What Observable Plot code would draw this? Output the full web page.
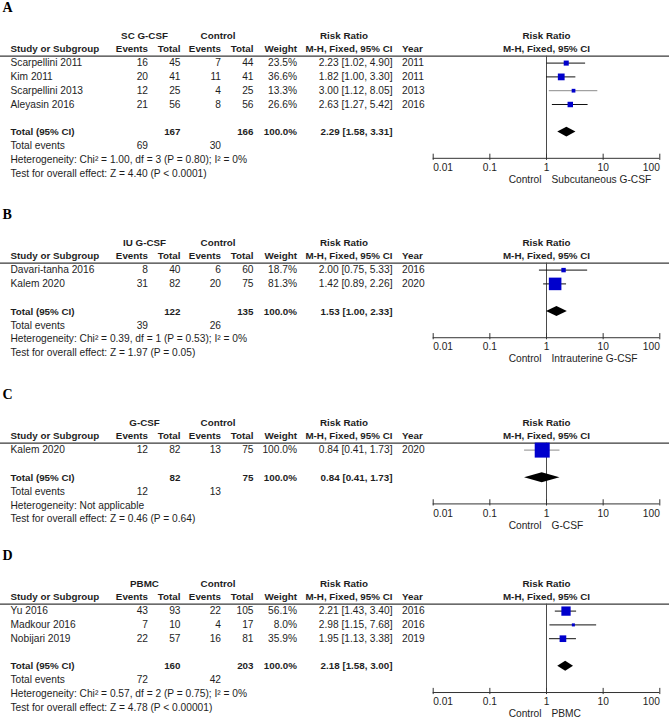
<!DOCTYPE html>
<html><head><meta charset="utf-8">
<script src="https://cdn.jsdelivr.net/npm/d3@7"></script>
<script src="https://cdn.jsdelivr.net/npm/@observablehq/plot@0.6"></script>
<style>
body{margin:0;background:#fff;}
#chart svg{display:block;}
</style></head><body><div id="chart"></div>
<script>
// ---------- DATA ----------
// Panel A
const aStudies = ["Scarpellini 2011", "Kim 2011", "Scarpellini 2013", "Aleyasin 2016"];
const aExpEvents = [16, 20, 12, 21];
const aExpTotal = [45, 41, 25, 56];
const aCtlEvents = [7, 11, 4, 8];
const aCtlTotal = [44, 41, 25, 56];
const aWeight = [23.5, 36.6, 13.3, 26.6];
const aRR = [2.23, 1.82, 3.00, 2.63];
const aLo = [1.02, 1.00, 1.12, 1.27];
const aHi = [4.90, 3.30, 8.05, 5.42];
const aYear = ["2011", "2011", "2013", "2016"];
const aTotals = [167, 166, 100.0, 2.29, 1.58, 3.31, 69, 30]; // expTotal, ctlTotal, weight, rr, lo, hi, expEvents, ctlEvents
const aHet = "Heterogeneity: Chi² = 1.00, df = 3 (P = 0.80); I² = 0%";
const aTest = "Test for overall effect: Z = 4.40 (P < 0.0001)";
const aGroup = "SC G-CSF", aFavours = "Subcutaneous G-CSF";

// Panel B
const bStudies = ["Davari-tanha 2016", "Kalem 2020"];
const bExpEvents = [8, 31];
const bExpTotal = [40, 82];
const bCtlEvents = [6, 20];
const bCtlTotal = [60, 75];
const bWeight = [18.7, 81.3];
const bRR = [2.00, 1.42];
const bLo = [0.75, 0.89];
const bHi = [5.33, 2.26];
const bYear = ["2016", "2020"];
const bTotals = [122, 135, 100.0, 1.53, 1.00, 2.33, 39, 26];
const bHet = "Heterogeneity: Chi² = 0.39, df = 1 (P = 0.53); I² = 0%";
const bTest = "Test for overall effect: Z = 1.97 (P = 0.05)";
const bGroup = "IU G-CSF", bFavours = "Intrauterine G-CSF";

// Panel C
const cStudies = ["Kalem 2020"];
const cExpEvents = [12];
const cExpTotal = [82];
const cCtlEvents = [13];
const cCtlTotal = [75];
const cWeight = [100.0];
const cRR = [0.84];
const cLo = [0.41];
const cHi = [1.73];
const cYear = ["2020"];
const cTotals = [82, 75, 100.0, 0.84, 0.41, 1.73, 12, 13];
const cHet = "Heterogeneity: Not applicable";
const cTest = "Test for overall effect: Z = 0.46 (P = 0.64)";
const cGroup = "G-CSF", cFavours = "G-CSF";

// Panel D
const dStudies = ["Yu 2016", "Madkour 2016", "Nobijari 2019"];
const dExpEvents = [43, 7, 22];
const dExpTotal = [93, 10, 57];
const dCtlEvents = [22, 4, 16];
const dCtlTotal = [105, 17, 81];
const dWeight = [56.1, 8.0, 35.9];
const dRR = [2.21, 2.98, 1.95];
const dLo = [1.43, 1.15, 1.13];
const dHi = [3.40, 7.68, 3.38];
const dYear = ["2016", "2016", "2019"];
const dTotals = [160, 203, 100.0, 2.18, 1.58, 3.00, 72, 42];
const dHet = "Heterogeneity: Chi² = 0.57, df = 2 (P = 0.75); I² = 0%";
const dTest = "Test for overall effect: Z = 4.78 (P < 0.00001)";
const dGroup = "PBMC", dFavours = "PBMC";

const axisTicks = [0.01, 0.1, 1, 10, 100];
const axisTickLabels = ["0.01", "0.1", "1", "10", "100"];

// ---------- STYLE / LAYOUT ----------
const FONT = "'Liberation Sans', Arial, sans-serif";
const F_REG = 10.2, F_BOLD = 9.8;
const INK = "#1e1e1e";
const COL = {study: 10, ee: 147.5, et: 180, ce: 220.5, ct: 253, w: 296.5, rr: 392, year: 401.5,
             expHead: 144, ctlHead: 217.5, rrHead: 343.5};
const fmtRR = (r, l, h) => `${r.toFixed(2)} [${l.toFixed(2)}, ${h.toFixed(2)}]`;
const fmtW = w => `${w.toFixed(1)}%`;

function panel(letter, height, studies, ee, et, ce, ct, w, rr, lo, hi, yr, tot, het, test, group, favours, grayCI) {
  const n = studies.length;
  const rows = studies.map((s, i) => ({row: i + 2, study: s, ee: String(ee[i]), et: String(et[i]), ce: String(ce[i]), ct: String(ct[i]),
    w: w[i], rr: rr[i], lo: lo[i], hi: hi[i], year: String(yr[i]), rrText: fmtRR(rr[i], lo[i], hi[i]), wText: fmtW(w[i])}));
  const totRow = n + 3, evRow = n + 4, hetRow = n + 5, testRow = n + 6, axisRow = n + 4.9;
  const total = {row: totRow, et: String(tot[0]), ct: String(tot[1]), wText: fmtW(tot[2]), rrText: fmtRR(tot[3], tot[4], tot[5]), ee: String(tot[6]), ce: String(tot[7])};
  const hh = 0.36;
  const diamond = [
    {x: tot[4], y1: totRow, y2: totRow},
    {x: tot[3], y1: totRow - hh, y2: totRow + hh},
    {x: tot[5], y1: totRow, y2: totRow}
  ];
  const ticks = axisTicks.map((t, i) => ({t, label: axisTickLabels[i]}));
  const txt = (data, opts, px, anchor, bold) => Plot.text(data, {
    frameAnchor: "left", dx: px, textAnchor: anchor, fill: INK,
    fontWeight: bold ? "bold" : "normal", fontSize: bold ? F_BOLD : F_REG, ...opts
  });
  const lbl = (t, row, px, anchor, bold) => txt([t], {y: () => row, text: d => d}, px, anchor, bold);

  return Plot.plot({
    width: 669, height,
    marginLeft: 0, marginRight: 0, marginTop: 0, marginBottom: 0,
    style: {fontFamily: FONT, background: "#fff", overflow: "visible"},
    x: {type: "log", domain: [0.01, 100], range: [432.7, 659.3], axis: null},
    y: {type: "linear", domain: [0, 1], range: [35, 48.8], axis: null},
    r: {type: "linear", domain: [0, 100], range: [1.13, 8.46]},
    marks: [
      // panel letter
      Plot.text([letter], {frameAnchor: "left", dx: 2, y: () => -2.03, text: d => d, textAnchor: "start",
        fontFamily: "'Liberation Serif', 'Times New Roman', serif", fontWeight: "bold", fontSize: 14, fill: "#000"}),
      // header row 1
      lbl(group, 0, COL.expHead, "middle", true),
      lbl("Control", 0, COL.ctlHead, "middle", true),
      lbl("Risk Ratio", 0, COL.rrHead, "middle", true),
      Plot.text(["Risk Ratio"], {x: 1, y: 0, text: d => d, fontWeight: "bold", fontSize: F_BOLD, fill: INK}),
      // header row 2
      lbl("Study or Subgroup", 1, COL.study, "start", true),
      lbl("Events", 1, COL.ee, "end", true),
      lbl("Total", 1, COL.et, "end", true),
      lbl("Events", 1, COL.ce, "end", true),
      lbl("Total", 1, COL.ct, "end", true),
      lbl("Weight", 1, COL.w, "end", true),
      lbl("M-H, Fixed, 95% CI", 1, COL.rr, "end", true),
      lbl("Year", 1, COL.year, "start", true),
      Plot.text(["M-H, Fixed, 95% CI"], {x: 1, y: 1, text: d => d, fontWeight: "bold", fontSize: F_BOLD, fill: INK}),
      // header rule
      Plot.ruleY([1.5], {stroke: "#3a3a3a", strokeWidth: 1.2}),
      // study rows
      txt(rows, {y: "row", text: "study"}, COL.study, "start"),
      txt(rows, {y: "row", text: "ee"}, COL.ee, "end"),
      txt(rows, {y: "row", text: "et"}, COL.et, "end"),
      txt(rows, {y: "row", text: "ce"}, COL.ce, "end"),
      txt(rows, {y: "row", text: "ct"}, COL.ct, "end"),
      txt(rows, {y: "row", text: "wText"}, COL.w, "end"),
      txt(rows, {y: "row", text: "rrText"}, COL.rr, "end"),
      txt(rows, {y: "row", text: "year"}, COL.year, "start"),
      // total row
      lbl("Total (95% CI)", totRow, COL.study, "start", true),
      txt([total], {y: "row", text: "et"}, COL.et, "end", true),
      txt([total], {y: "row", text: "ct"}, COL.ct, "end", true),
      txt([total], {y: "row", text: "wText"}, COL.w, "end", true),
      txt([total], {y: "row", text: "rrText"}, COL.rr, "end", true),
      // total events
      lbl("Total events", evRow, COL.study, "start"),
      txt([total], {y: () => evRow, text: "ee"}, COL.ee, "end"),
      txt([total], {y: () => evRow, text: "ce"}, COL.ce, "end"),
      lbl(het, hetRow, COL.study, "start"),
      lbl(test, testRow, COL.study, "start"),
      // forest: line of no effect
      Plot.ruleX([1], {y1: 1.5, y2: axisRow, stroke: "#4a4a4a", strokeWidth: 1}),
      // CIs
      Plot.ruleY(rows, {y: "row", x1: "lo", x2: "hi", stroke: d => grayCI.includes(d.study) ? "#8c8c8c" : "#111", strokeWidth: 1}),
      Plot.dot(rows, {x: "rr", y: "row", r: "w", symbol: "square", fill: "#0000cc", stroke: null}),
      // pooled diamond
      Plot.areaY(diamond, {x: "x", y1: "y1", y2: "y2", fill: "#000", curve: "linear"}),
      // axis
      Plot.ruleY([axisRow], {x1: axisTicks[0], x2: axisTicks[axisTicks.length - 1], stroke: "#333", strokeWidth: 1}),
      Plot.ruleX(ticks, {x: "t", y1: axisRow - 0.3, y2: axisRow + 0.15, stroke: "#333", strokeWidth: 1}),
      Plot.text(ticks.slice(0, 1), {x: "t", y: () => axisRow + 0.68, text: "label", textAnchor: "start", fontSize: F_REG, fill: INK}),
      Plot.text(ticks.slice(1, -1), {x: "t", y: () => axisRow + 0.68, text: "label", textAnchor: "middle", fontSize: F_REG, fill: INK}),
      Plot.text(ticks.slice(-1), {x: "t", y: () => axisRow + 0.68, text: "label", textAnchor: "end", fontSize: F_REG, fill: INK}),
      Plot.text(["Control"], {x: 1, y: () => axisRow + 1.55, text: d => d, textAnchor: "end", dx: -5, fontSize: F_REG, fill: INK}),
      Plot.text([favours], {x: 1, y: () => axisRow + 1.55, text: d => d, textAnchor: "start", dx: 5, fontSize: F_REG, fill: INK})
    ]
  });
}

const chart = document.getElementById("chart");
chart.append(panel("A", 207, aStudies, aExpEvents, aExpTotal, aCtlEvents, aCtlTotal, aWeight, aRR, aLo, aHi, aYear, aTotals, aHet, aTest, aGroup, aFavours, ["Scarpellini 2013"]));
chart.append(panel("B", 180, bStudies, bExpEvents, bExpTotal, bCtlEvents, bCtlTotal, bWeight, bRR, bLo, bHi, bYear, bTotals, bHet, bTest, bGroup, bFavours, []));
chart.append(panel("C", 161, cStudies, cExpEvents, cExpTotal, cCtlEvents, cCtlTotal, cWeight, cRR, cLo, cHi, cYear, cTotals, cHet, cTest, cGroup, cFavours, ["Kalem 2020"]));
chart.append(panel("D", 170, dStudies, dExpEvents, dExpTotal, dCtlEvents, dCtlTotal, dWeight, dRR, dLo, dHi, dYear, dTotals, dHet, dTest, dGroup, dFavours, []));
</script></body></html>
